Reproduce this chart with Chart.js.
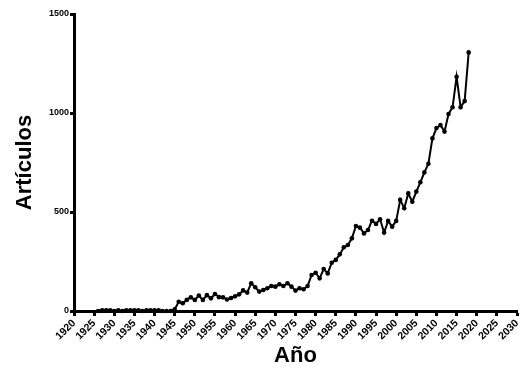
<!DOCTYPE html>
<html>
<head>
<meta charset="utf-8">
<script src="https://cdn.jsdelivr.net/npm/chart.js@4/dist/chart.umd.min.js"></script>
<style>
html,body{margin:0;padding:0;background:#fff;}
#c{display:block;}
</style>
</head>
<body>
<canvas id="c" width="521" height="369"></canvas>
<script>
const years = [1926,1927,1928,1929,1930,1931,1932,1933,1934,1935,1936,1937,1938,1939,1940,1941,1942,1943,1944,1945,
1946,1947,1948,1949,1950,1951,1952,1953,1954,1955,1956,1957,1958,1959,1960,1961,1962,1963,1964,1965,
1966,1967,1968,1969,1970,1971,1972,1973,1974,1975,1976,1977,1978,1979,1980,1981,1982,1983,1984,1985,
1986,1987,1988,1989,1990,1991,1992,1993,1994,1995,1996,1997,1998,1999,2000,2001,2002,2003,2004,2005,
2006,2007,2008,2009,2010,2011,2012,2013,2014,2015,2016,2017,2018];
const articulos = [0,4,4,4,0,4,0,4,4,4,4,0,4,4,4,4,0,0,0,8,
47,39,56,69,56,78,56,80,64,86,70,69,58,66,74,84,104,93,140,120,
98,106,115,126,123,135,126,140,123,103,115,110,126,182,193,165,212,190,244,258,
286,322,333,367,429,421,392,409,456,440,463,396,455,426,455,561,519,594,552,603,
650,700,744,872,924,939,906,995,1029,1183,1029,1060,1306];
const xTicks = [1920,1925,1930,1935,1940,1945,1950,1955,1960,1965,1970,1975,1980,1985,1990,1995,2000,2005,2010,2015,2020,2025,2030];
const yTicks = [0,500,1000,1500];
const xTitle = 'Año';
const yTitle = 'Artículos';

const FONT = '"Liberation Sans", Arial, sans-serif';
const points = years.map((y, i) => ({x: y, y: articulos[i]}));

new Chart(document.getElementById('c'), {
  type: 'line',
  data: {
    datasets: [{
      data: points,
      borderColor: '#000',
      backgroundColor: '#000',
      borderWidth: 2,
      pointRadius: 2.3,
      pointBorderWidth: 0,
      pointBackgroundColor: '#000',
      tension: 0,
      clip: false
    }]
  },
  options: {
    responsive: false,
    animation: false,
    devicePixelRatio: 1,
    layout: {padding: {top: 14, right: 0, left: 0, bottom: 0}},
    plugins: {legend: {display: false}, tooltip: {enabled: false}},
    scales: {
      x: {
        type: 'linear',
        min: xTicks[0],
        max: xTicks[xTicks.length - 1],
        afterBuildTicks: s => { s.ticks = xTicks.map(v => ({value: v})); },
        afterFit: s => { s.height = 58; s.paddingRight = 3; },
        ticks: {
          color: '#000',
          font: {family: FONT, size: 10.5, weight: 'bold'},
          minRotation: 45, maxRotation: 45,
          padding: 1,
          autoSkip: false,
          callback: v => String(v)
        },
        grid: {display: true, drawOnChartArea: false, drawTicks: true, tickLength: 5, tickWidth: 3, color: '#000'},
        border: {display: true, width: 3, color: '#000'},
        title: {display: true, text: xTitle, color: '#000', font: {family: FONT, size: 22, weight: 'bold'}, padding: {top: 0, bottom: 0}}
      },
      y: {
        type: 'linear',
        min: yTicks[0],
        max: yTicks[yTicks.length - 1],
        afterBuildTicks: s => { s.ticks = yTicks.map(v => ({value: v})); },
        afterFit: s => { s.width = 74; },
        ticks: {
          color: '#000',
          font: {family: FONT, size: 9, weight: 'bold'},
          padding: 1,
          callback: v => String(v)
        },
        grid: {display: true, drawOnChartArea: false, drawTicks: true, tickLength: 4, tickWidth: 3, color: '#000'},
        border: {display: true, width: 3, color: '#000'},
        title: {display: true, text: yTitle, color: '#000', font: {family: FONT, size: 22, weight: 'bold'}, padding: {top: 12, bottom: 6}}
      }
    }
  }
});
</script>
</body>
</html>
